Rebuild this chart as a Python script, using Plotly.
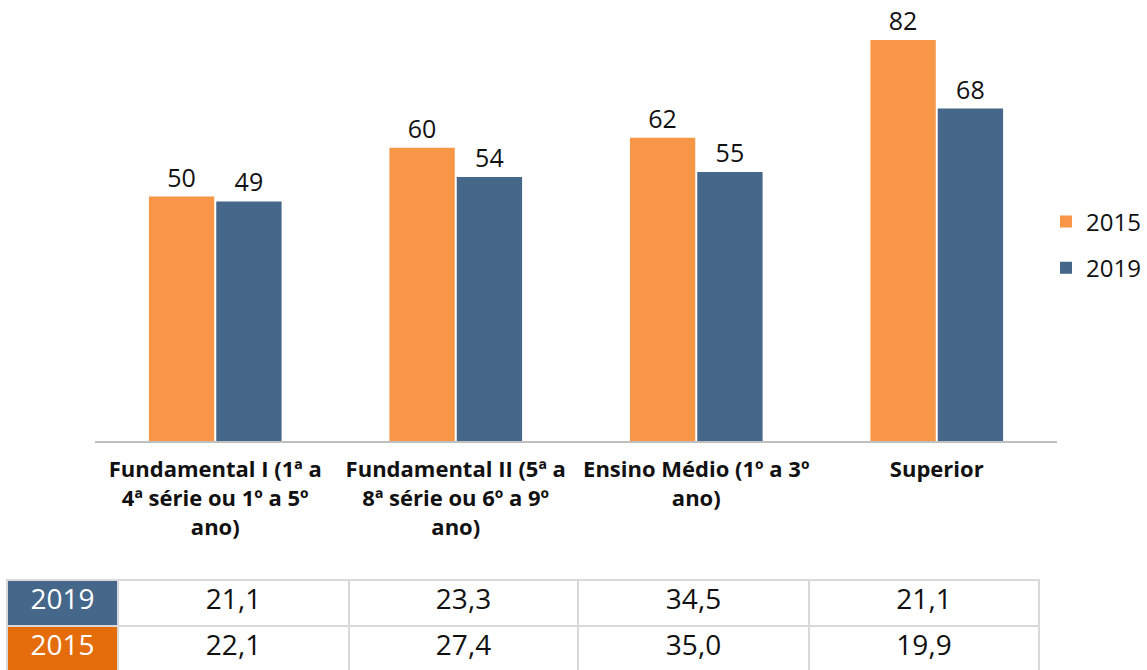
import plotly.graph_objects as go

categories = [
    "Fundamental I (1ª a<br>4ª série ou 1º a 5º<br>ano)",
    "Fundamental II (5ª a<br>8ª série ou 6º a 9º<br>ano)",
    "Ensino Médio (1º a 3º<br>ano)",
    "Superior",
]
series_names = ["2015", "2019"]
values_2015 = [50, 60, 62, 82]
values_2019 = [49, 54, 55, 68]
table_2019 = ["21,1", "23,3", "34,5", "21,1"]
table_2015 = ["22,1", "27,4", "35,0", "19,9"]

ORANGE = "#F79646"
BLUE = "#44678A"
DARK_ORANGE = "#E46C0A"
GRID = "#D9D9D9"
FONT = "Open Sans"

W, H = 1147, 670

fig = go.Figure()
fig.add_trace(go.Bar(
    name=series_names[0], x=categories, y=values_2015, legendgroup="a",
    marker=dict(color=ORANGE, line=dict(width=0)),
    text=[str(v) for v in values_2015], textposition="outside",
    textfont=dict(family=FONT, size=25, color="#111111"),
    cliponaxis=False,
))
fig.add_trace(go.Bar(
    name=series_names[1], x=categories, y=values_2019, legendgroup="b",
    marker=dict(color=BLUE, line=dict(width=0)),
    text=[str(v) for v in values_2019], textposition="outside",
    textfont=dict(family=FONT, size=25, color="#111111"),
    cliponaxis=False,
))

# Data table under the chart
fig.add_trace(go.Table(
    domain=dict(x=[7 / W, 1039 / W], y=[0, (H - 580) / H]),
    columnwidth=[111, 231, 229, 231, 230],
    header=dict(
        values=[series_names[1]] + table_2019,
        fill_color=[BLUE, "white", "white", "white", "white"],
        font=dict(family=FONT, size=28, color=["white", "#111111", "#111111", "#111111", "#111111"]),
        line=dict(color=GRID, width=2),
        align="center", height=46,
    ),
    cells=dict(
        values=[[series_names[0]]] + [[v] for v in table_2015],
        fill_color=[DARK_ORANGE, "white", "white", "white", "white"],
        font=dict(family=FONT, size=28, color=["white", "#111111", "#111111", "#111111", "#111111"]),
        line=dict(color=GRID, width=2),
        align="center", height=46,
    ),
))

fig.update_layout(
    width=W, height=H,
    margin=dict(l=0, r=0, t=0, b=0, autoexpand=False),
    paper_bgcolor="white", plot_bgcolor="white",
    barmode="group", bargap=0.44, bargroupgap=0.03,
    font=dict(family=FONT, color="#111111"),
    xaxis=dict(
        domain=[95 / W, 1057 / W], automargin=False,
        showline=True, linecolor="#BFBFBF", linewidth=2,
        ticks="", showgrid=False, ticklabelstandoff=8,
        tickfont=dict(family=FONT, size=22, color="#111111", weight="bold"),
    ),
    yaxis=dict(
        domain=[(H - 441) / H, 1], automargin=False,
        range=[0, 90.2], visible=False, showgrid=False,
    ),
    legend=dict(
        x=1046 / W, y=(H - 245) / H, xanchor="left", yanchor="middle",
        font=dict(family=FONT, size=24, color="#111111"),
        bgcolor="rgba(0,0,0,0)", tracegroupgap=12,
    ),
)

fig.write_html(
    "out.html",
    config={"displayModeBar": False},
    post_script="document.body.style.margin='0';document.body.style.overflow='hidden';",
)
